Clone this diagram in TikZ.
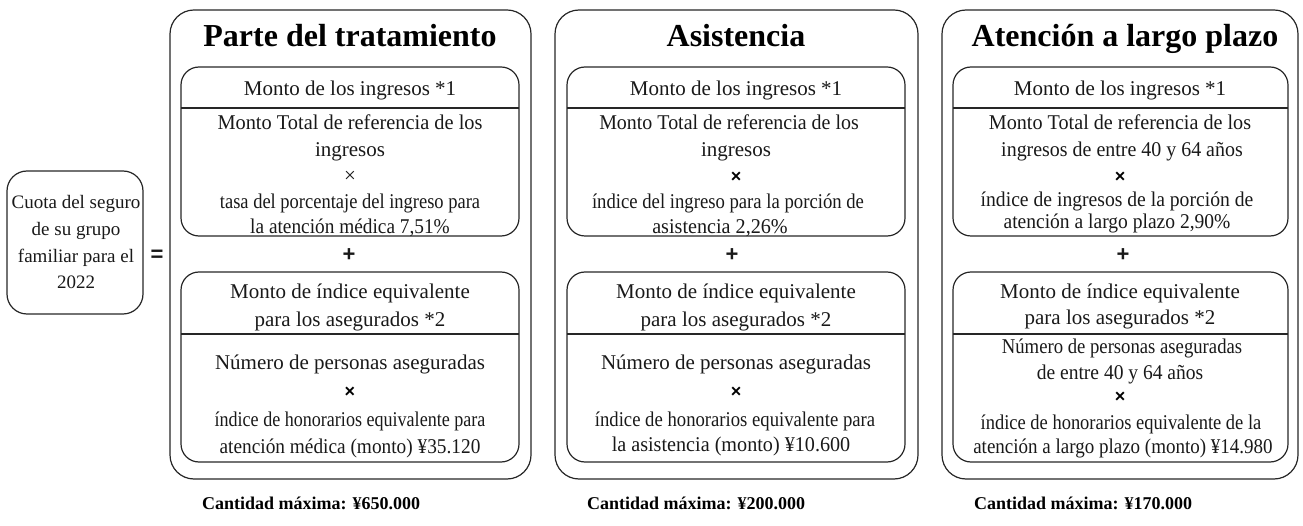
\documentclass[tikz,border=0pt]{standalone}
\usepackage{fontspec}
\usepackage{graphicx}
\setmainfont{Liberation Serif}
\newfontfamily\sansx{Liberation Sans}
\newcommand\sxq[2]{\scalebox{#1}[1]{#2}}
\begin{document}
\begin{tikzpicture}[x=1pt,y=-1pt,
  outerbox/.style={draw=black!85, line width=1.2pt, rounded corners=24pt, inner sep=0pt, outer sep=0pt, anchor=north west},
  innerbox/.style={draw=black!85, line width=1.2pt, rounded corners=18pt, inner sep=0pt, outer sep=0pt, anchor=north west},
  divider/.style={draw=black!85, line width=1.2pt},
  ln/.style={font=\fontsize{21}{25}\selectfont, text=black!90, inner sep=0pt, text height=17pt, text depth=4pt},
  ttl/.style={font=\fontsize{32}{36}\selectfont\bfseries, text=black, inner sep=0pt, text height=26pt, text depth=6pt},
  cuota/.style={font=\fontsize{19}{23}\selectfont, text=black!90, inner sep=0pt, text height=15pt, text depth=3pt},
  maxi/.style={font=\fontsize{18}{22}\selectfont\bfseries, text=black, inner sep=0pt, text height=14pt, text depth=2pt, anchor=west},
  op/.style={font=\sansx\bfseries\fontsize{22}{24}\selectfont, text=black!90, inner sep=0pt},
  thinx/.style={font=\fontsize{21}{25}\selectfont, text=black!90, inner sep=0pt},
  boldx/.style={font=\sansx\bfseries\fontsize{18}{20}\selectfont, text=black, inner sep=0pt},
]
\useasboundingbox (0,0) rectangle (1303,526);

% left box
\node[outerbox, rounded corners=20pt, minimum width=136pt, minimum height=143pt] (cuota) at (7,171) {};
\node[cuota] (q1) at (76,203) {Cuota del seguro};
\node[cuota] (q2) at (76,230) {de su grupo};
\node[cuota] (q3) at (76,257) {familiar para el};
\node[cuota] (q4) at (76,283) {2022};
\node[op] (eq) at (157,256) {=};

% column 1
\node[outerbox, minimum width=361pt, minimum height=469pt] (c1) at (170,10) {};
\node[ttl] (c1t) at (350,37) {Parte del tratamiento};
\node[innerbox, minimum width=338pt, minimum height=169pt] (c1a) at (181,67) {};
\draw[divider] (181,108) -- (519,108);
\node[ln] (c1a1) at (350,89) {Monto de los ingresos *1};
\node[ln] (c1a2) at (350,123) {\sxq{0.97}{Monto Total de referencia de los}};
\node[ln] (c1a3) at (350,150) {ingresos};
\node[thinx] (c1a4) at (350,177) {×};
\node[ln] (c1a5) at (350,202) {\sxq{0.88}{tasa del porcentaje del ingreso para}};
\node[ln] (c1a6) at (350,227) {\sxq{0.92}{la atención médica 7,51\%}};
\node[op] (c1p) at (349,255) {+};
\node[innerbox, minimum width=338pt, minimum height=190pt] (c1b) at (181,272) {};
\draw[divider] (181,334) -- (519,334);
\node[ln] (c1b1) at (350,292) {Monto de índice equivalente};
\node[ln] (c1b2) at (350,320) {para los asegurados *2};
\node[ln] (c1b3) at (350,363) {Número de personas aseguradas};
\node[boldx] (c1b4) at (350,392) {×};
\node[ln] (c1b5) at (350,420) {\sxq{0.86}{índice de honorarios equivalente para}};
\node[ln] (c1b6) at (350,447) {\sxq{0.92}{atención médica (monto) ¥35.120}};
\node[maxi] (c1m) at (202,503) {Cantidad máxima: ¥650.000};

% column 2
\node[outerbox, minimum width=363pt, minimum height=469pt] (c2) at (555,10) {};
\node[ttl] (c2t) at (736,37) {Asistencia};
\node[innerbox, minimum width=338pt, minimum height=169pt] (c2a) at (567,67) {};
\draw[divider] (567,108) -- (905,108);
\node[ln] (c2a1) at (736,89) {Monto de los ingresos *1};
\node[ln] (c2a2) at (729,123) {\sxq{0.95}{Monto Total de referencia de los}};
\node[ln] (c2a3) at (736,150) {ingresos};
\node[boldx] (c2a4) at (736,177) {×};
\node[ln] (c2a5) at (728,202) {\sxq{0.89}{índice del ingreso para la porción de}};
\node[ln] (c2a6) at (720,227) {\sxq{0.96}{asistencia 2,26\%}};
\node[op] (c2p) at (732,255) {+};
\node[innerbox, minimum width=338pt, minimum height=190pt] (c2b) at (567,272) {};
\draw[divider] (567,334) -- (905,334);
\node[ln] (c2b1) at (736,292) {Monto de índice equivalente};
\node[ln] (c2b2) at (736,320) {para los asegurados *2};
\node[ln] (c2b3) at (736,363) {Número de personas aseguradas};
\node[boldx] (c2b4) at (736,392) {×};
\node[ln] (c2b5) at (735,420) {\sxq{0.89}{índice de honorarios equivalente para}};
\node[ln] (c2b6) at (731,445) {\sxq{0.96}{la asistencia (monto) ¥10.600}};
\node[maxi] (c2m) at (587,503) {Cantidad máxima: ¥200.000};

% column 3
\node[outerbox, minimum width=356pt, minimum height=469pt] (c3) at (942,10) {};
\node[ttl] (c3t) at (1125,37) {Atención a largo plazo};
\node[innerbox, minimum width=335pt, minimum height=169pt] (c3a) at (953,67) {};
\draw[divider] (953,108) -- (1288,108);
\node[ln] (c3a1) at (1120,89) {Monto de los ingresos *1};
\node[ln] (c3a2) at (1120,123) {\sxq{0.96}{Monto Total de referencia de los}};
\node[ln] (c3a3) at (1122,150) {\sxq{0.95}{ingresos de entre 40 y 64 años}};
\node[boldx] (c3a4) at (1120,177) {×};
\node[ln] (c3a5) at (1117,200) {\sxq{0.935}{índice de ingresos de la porción de}};
\node[ln] (c3a6) at (1117,222) {\sxq{0.93}{atención a largo plazo 2,90\%}};
\node[op] (c3p) at (1123,255) {+};
\node[innerbox, minimum width=335pt, minimum height=190pt] (c3b) at (953,272) {};
\draw[divider] (953,334) -- (1288,334);
\node[ln] (c3b1) at (1120,292) {Monto de índice equivalente};
\node[ln] (c3b2) at (1120,318) {para los asegurados *2};
\node[ln] (c3b3) at (1122,347) {\sxq{0.89}{Número de personas aseguradas}};
\node[ln] (c3b4) at (1120,373) {\sxq{0.93}{de entre 40 y 64 años}};
\node[boldx] (c3b5) at (1120,397) {×};
\node[ln] (c3b6) at (1121,423) {\sxq{0.88}{índice de honorarios equivalente de la}};
\node[ln] (c3b7) at (1123,447) {\sxq{0.905}{atención a largo plazo (monto) ¥14.980}};
\node[maxi] (c3m) at (974,503) {Cantidad máxima: ¥170.000};
\end{tikzpicture}
\end{document}
